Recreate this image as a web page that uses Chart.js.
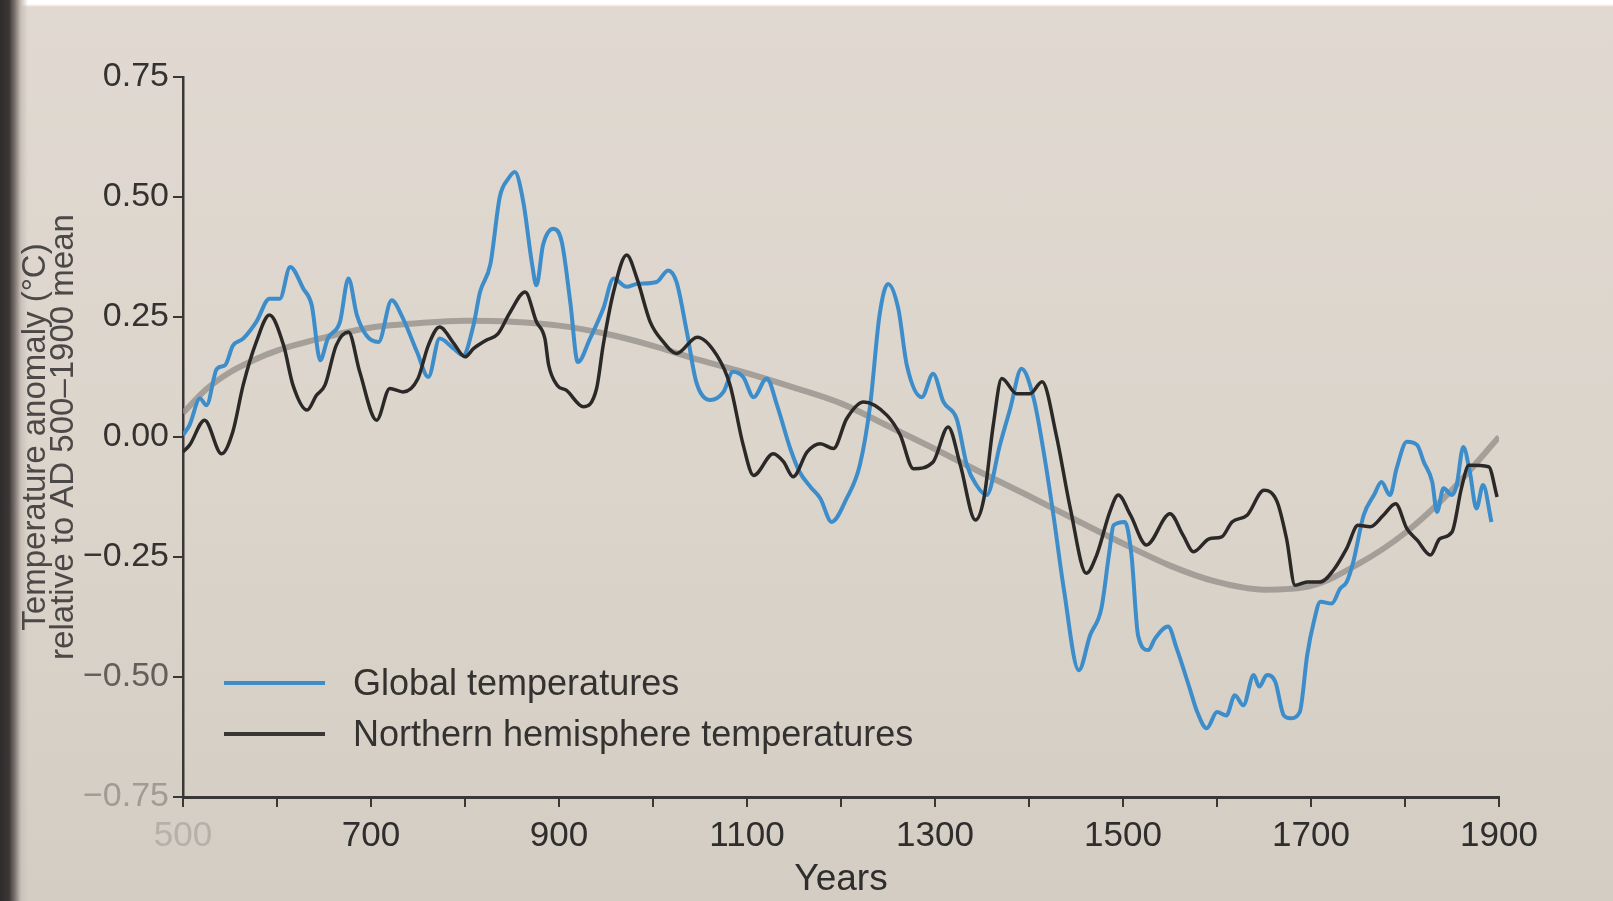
<!DOCTYPE html>
<html>
<head>
<meta charset="utf-8">
<title>Temperature anomaly AD 500–1900</title>
<script src="https://cdn.jsdelivr.net/npm/chart.js@4.4.1/dist/chart.umd.min.js"></script>
<style>
  html, body { margin: 0; padding: 0; }
  body {
    width: 1613px; height: 901px; overflow: hidden; position: relative;
    background:
      linear-gradient(to right, #2f2b2c 0px, #3b3636 9px, #7d7570 15px, #c9c1b9 21px, rgba(222,214,206,0) 28px),
      linear-gradient(to bottom, #ffffff 0px, #ffffff 4px, #e1d9d1 7px, #dcd5cc 450px, #d4cdc4 901px);
  }
  #chart { position: absolute; left: 0; top: 0; }
  .legend {
    position: absolute; left: 224px; top: 657px;
    font-family: 'Liberation Sans', Arial, sans-serif; font-size: 36px; color: #343230;
  }
  .legend .row { display: flex; align-items: center; height: 51px; }
  .legend .swatch { width: 101px; height: 4px; margin-right: 28px; }
</style>
</head>
<body>
<canvas id="chart" width="1613" height="901"></canvas>
<div class="legend">
  <div class="row"><span class="swatch" style="background:#3d8dcb"></span>Global temperatures</div>
  <div class="row"><span class="swatch" style="background:#3a3634"></span>Northern hemisphere temperatures</div>
</div>
<script>
// global reconstruction
const globalYears = [
  500, 507, 518, 525, 536, 545, 553, 564, 578, 592,
  603, 614, 628, 637, 646, 654, 667, 676, 685, 695,
  708, 722, 734, 749, 761, 773, 788, 798, 809, 816,
  827, 837, 846, 853, 862, 871, 876, 883, 894, 903,
  912, 920, 933, 947, 958, 972, 983, 1004, 1016, 1025,
  1036, 1046, 1061, 1075, 1085, 1096, 1107, 1121, 1132, 1146,
  1156, 1168, 1178, 1190, 1206, 1220, 1231, 1241, 1250, 1261,
  1270, 1286, 1298, 1309, 1323, 1334, 1344, 1355, 1369, 1380,
  1392, 1405, 1415, 1426, 1437, 1453, 1465, 1477, 1485, 1490,
  1502, 1509, 1516, 1527, 1534, 1548, 1557, 1571, 1579, 1589,
  1600, 1610, 1619, 1628, 1639, 1645, 1653, 1662, 1671, 1678,
  1688, 1696, 1703, 1710, 1722, 1731, 1738, 1745, 1756, 1767,
  1775, 1784, 1791, 1802, 1813, 1820, 1829, 1834, 1841, 1850,
  1855, 1862, 1869, 1876, 1883, 1892
];
const globalTemp = [
  0.004, 0.025, 0.08, 0.066, 0.142, 0.15, 0.19, 0.205, 0.24, 0.288,
  0.288, 0.354, 0.309, 0.274, 0.16, 0.205, 0.24, 0.33, 0.254, 0.212,
  0.198, 0.285, 0.247, 0.177, 0.125, 0.205, 0.184, 0.17, 0.233, 0.302,
  0.36, 0.50, 0.538, 0.552, 0.49, 0.365, 0.316, 0.40, 0.434, 0.406,
  0.281, 0.156, 0.205, 0.267, 0.33, 0.313, 0.319, 0.323, 0.347, 0.323,
  0.219, 0.115, 0.077, 0.094, 0.136, 0.125, 0.083, 0.122, 0.066, -0.024,
  -0.073, -0.105, -0.128, -0.177, -0.128, -0.059, 0.066, 0.254, 0.319, 0.267,
  0.15, 0.083, 0.132, 0.073, 0.038, -0.059, -0.1, -0.121, -0.017, 0.059,
  0.142, 0.08, -0.024, -0.163, -0.316, -0.486, -0.413, -0.357, -0.246, -0.184,
  -0.177, -0.246, -0.413, -0.444, -0.42, -0.395, -0.44, -0.524, -0.573, -0.607,
  -0.573, -0.58, -0.538, -0.559, -0.496, -0.52, -0.496, -0.51, -0.58, -0.586,
  -0.573, -0.454, -0.385, -0.343, -0.347, -0.316, -0.302, -0.26, -0.163, -0.121,
  -0.094, -0.121, -0.066, -0.01, -0.017, -0.052, -0.094, -0.156, -0.107, -0.121,
  -0.1, -0.021, -0.073, -0.149, -0.1, -0.177
];

// northern hemisphere reconstruction
const nhYears = [
  500, 507, 523, 541, 553, 564, 578, 592, 607, 617,
  632, 642, 651, 663, 676, 688, 706, 720, 734, 750,
  761, 773, 788, 800, 809, 823, 835, 848, 864, 876,
  885, 889, 898, 908, 926, 940, 947, 958, 972, 983,
  997, 1011, 1025, 1047, 1068, 1082, 1096, 1107, 1128, 1139,
  1149, 1164, 1178, 1192, 1206, 1224, 1249, 1263, 1277, 1298,
  1314, 1327, 1343, 1352, 1362, 1371, 1387, 1401, 1414, 1429,
  1444, 1461, 1472, 1486, 1495, 1508, 1525, 1550, 1564, 1575,
  1592, 1605, 1616, 1632, 1650, 1664, 1674, 1683, 1696, 1710,
  1724, 1738, 1750, 1763, 1777, 1790, 1802, 1813, 1827, 1837,
  1850, 1860, 1868, 1889, 1898
];
const nhTemp = [
  -0.031, -0.017, 0.035, -0.035, 0.011, 0.108, 0.198, 0.254, 0.191, 0.108,
  0.056, 0.087, 0.108, 0.191, 0.219, 0.136, 0.035, 0.101, 0.094, 0.122,
  0.191, 0.229, 0.195, 0.167, 0.184, 0.202, 0.215, 0.26, 0.302, 0.24,
  0.205, 0.15, 0.108, 0.097, 0.063, 0.101, 0.191, 0.302, 0.379, 0.33,
  0.24, 0.198, 0.174, 0.208, 0.17, 0.108, -0.017, -0.08, -0.035, -0.052,
  -0.083, -0.031, -0.014, -0.024, 0.038, 0.073, 0.045, 0.004, -0.066, -0.052,
  0.021, -0.059, -0.173, -0.128, 0.025, 0.122, 0.09, 0.09, 0.115, 0.004,
  -0.149, -0.284, -0.246, -0.156, -0.121, -0.163, -0.225, -0.16, -0.205, -0.239,
  -0.212, -0.208, -0.177, -0.163, -0.111, -0.135, -0.212, -0.309, -0.302, -0.302,
  -0.277, -0.232, -0.184, -0.187, -0.163, -0.139, -0.191, -0.215, -0.246, -0.212,
  -0.198, -0.107, -0.059, -0.062, -0.125
];

// smooth grey long-term curve
const trendYears = [500, 525, 550, 575, 600, 650, 700, 750, 800, 850, 900, 950, 1000, 1050, 1100,
  1150, 1200, 1250, 1300, 1350, 1400, 1450, 1500, 1550, 1600, 1650, 1700, 1750, 1800, 1850, 1900];
const trendTemp = [0.05, 0.10, 0.135, 0.16, 0.18, 0.207, 0.228, 0.237, 0.242, 0.24, 0.232, 0.215, 0.19, 0.16, 0.133,
  0.103, 0.07, 0.023, -0.025, -0.075, -0.123, -0.173, -0.222, -0.268, -0.302, -0.318, -0.31, -0.265, -0.2, -0.11, 0.0];

const yTickColors = { '-0.75': '#a19b96', '-0.5': '#625e5b' };
const narrowFont = "'Liberation Sans Narrow', 'Arial Narrow', 'Liberation Sans', Arial, sans-serif";

function pts(xs, ys){ return xs.map((x, i) => ({ x: x, y: ys[i] })); }

new Chart(document.getElementById('chart'), {
  type: 'line',
  data: {
    datasets: [
      { label: 'Northern hemisphere temperatures', data: pts(nhYears, nhTemp),
        borderColor: '#2b2927', borderWidth: 3.5, pointRadius: 0, cubicInterpolationMode: 'monotone', order: 1 },
      { label: 'Global temperatures', data: pts(globalYears, globalTemp),
        borderColor: '#3d8dcb', borderWidth: 4, pointRadius: 0, cubicInterpolationMode: 'monotone', order: 2 },
      { label: 'trend', data: pts(trendYears, trendTemp),
        borderColor: 'rgba(150,145,140,0.8)', borderWidth: 6, pointRadius: 0, cubicInterpolationMode: 'monotone', order: 3 }
    ]
  },
  options: {
    responsive: false,
    animation: false,
    layout: { padding: { left: 0, right: 114, top: 77, bottom: 0 } },
    plugins: { legend: { display: false }, tooltip: { enabled: false } },
    scales: {
      x: {
        type: 'linear', min: 500, max: 1900,
        afterFit: s => { s.height = 104; },
        border: { display: true, color: '#3a3836', width: 3 },
        grid: { drawOnChartArea: false, drawTicks: true, tickLength: 10, color: '#3a3836', lineWidth: 2 },
        ticks: {
          stepSize: 100, autoSkip: false, maxRotation: 0, padding: 8,
          font: { family: narrowFont, size: 35 },
          color: c => c.tick.value === 500 ? '#b7b0aa' : '#2f2e2d',
          callback: v => (v - 500) % 200 === 0 ? String(v) : ''
        },
        title: {
          display: true, text: 'Years', color: '#2f2e2d', padding: { top: 0, bottom: 3 },
          font: { family: narrowFont, size: 37, lineHeight: 1 }
        }
      },
      y: {
        min: -0.75, max: 0.75,
        afterFit: s => { s.width = 183; },
        border: { display: true, color: '#3a3836', width: 2.5 },
        grid: { drawOnChartArea: false, drawTicks: true, tickLength: 10, color: '#3a3836', lineWidth: 2 },
        ticks: {
          stepSize: 0.25, padding: 4,
          font: { family: "'Liberation Sans', Arial, sans-serif", size: 34 },
          color: c => yTickColors[String(c.tick.value)] || '#343231',
          callback: v => (v < 0 ? '\u2212' : '') + Math.abs(v).toFixed(2)
        },
        title: {
          display: true,
          text: ['Temperature anomaly (\u00B0C)', 'relative to AD 500\u20131900 mean'],
          color: '#4b4847', padding: { top: 22, bottom: 0 },
          font: { family: "'Liberation Sans', Arial, sans-serif", size: 33, lineHeight: 0.85 }
        }
      }
    }
  }
});
</script>
</body>
</html>
